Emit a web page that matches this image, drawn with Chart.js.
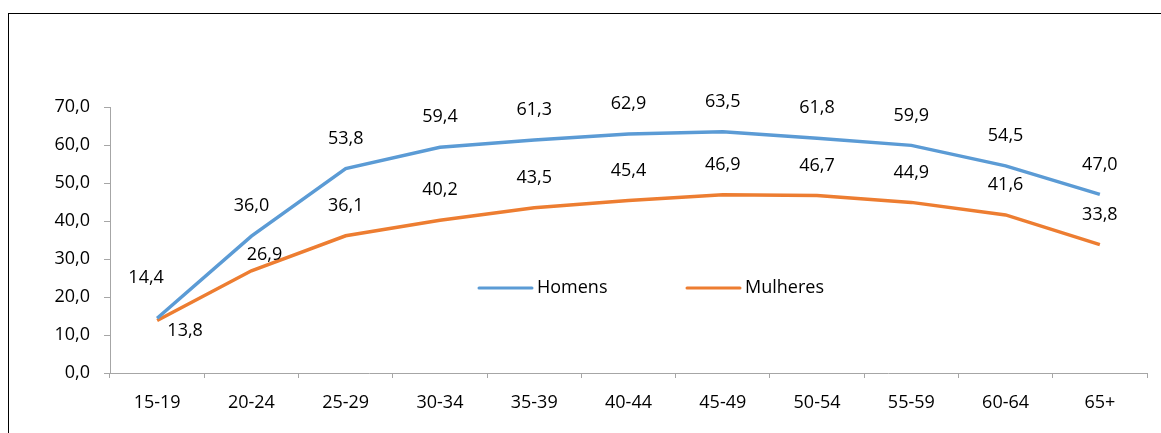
<!DOCTYPE html>
<html>
<head>
<meta charset="utf-8">
<script src="https://cdn.jsdelivr.net/npm/chart.js@4"></script>
<style>
  html, body { margin: 0; padding: 0; background: #fff; overflow: hidden; }
  canvas { display: block; }
</style>
</head>
<body>
<canvas id="chart-line" width="1161" height="433"></canvas>
<script>
// Age groups and rates per sex
const faixas = ["15-19", "20-24", "25-29", "30-34", "35-39", "40-44", "45-49", "50-54", "55-59", "60-64", "65+"];
const homens = [14.4, 36.0, 53.8, 59.4, 61.3, 62.9, 63.5, 61.8, 59.9, 54.5, 47.0];
const mulheres = [13.8, 26.9, 36.1, 40.2, 43.5, 45.4, 46.9, 46.7, 44.9, 41.6, 33.8];

const FONT = { family: "'Open Sans', 'Noto Sans', sans-serif", size: 18 };
const AXIS = "#A6A6A6";
const fmt = v => v.toFixed(1).replace(".", ",");

// label nudges for the crowded points near the start
const labelShift = {
  0: { 0: [-11, -40], 1: [0, -30] },
  1: { 0: [28, 10], 1: [13, -16] }
};

const valueLabels = {
  id: "valueLabels",
  afterDatasetsDraw(chart) {
    const ctx = chart.ctx;
    ctx.save();
    ctx.font = FONT.size + "px " + FONT.family;
    ctx.fillStyle = "#000";
    ctx.textAlign = "center";
    ctx.textBaseline = "middle";
    chart.data.datasets.forEach((ds, di) => {
      chart.getDatasetMeta(di).data.forEach((pt, i) => {
        const s = (labelShift[di] && labelShift[di][i]) || [0, -30];
        ctx.fillText(fmt(ds.data[i]), pt.x + s[0], pt.y + s[1]);
      });
    });
    ctx.restore();
  }
};

// legend drawn inside the plot, plus the outer frame
const innerLegend = {
  id: "innerLegend",
  beforeDraw(chart) {
    const ctx = chart.ctx;
    ctx.save();
    ctx.strokeStyle = "#000";
    ctx.lineWidth = 1;
    ctx.strokeRect(8.5, 13.5, 1300, 600);
    ctx.restore();
  },
  afterDraw(chart) {
    const ctx = chart.ctx;
    const items = [{ x: 479 }, { x: 687 }];
    const y = 288;
    ctx.save();
    ctx.font = FONT.size + "px " + FONT.family;
    ctx.textBaseline = "middle";
    chart.data.datasets.forEach((ds, i) => {
      const x = items[i].x;
      ctx.strokeStyle = ds.borderColor;
      ctx.lineWidth = 3;
      ctx.lineCap = "round";
      ctx.beginPath();
      ctx.moveTo(x, y);
      ctx.lineTo(x + 53, y);
      ctx.stroke();
      ctx.fillStyle = "#000";
      ctx.fillText(ds.label, x + 58, y);
    });
    ctx.restore();
  }
};

new Chart(document.getElementById("chart-line").getContext("2d"), {
  type: "line",
  data: {
    labels: faixas,
    datasets: [
      { label: "Homens", data: homens, borderColor: "#5B9BD5", backgroundColor: "#5B9BD5",
        borderWidth: 3.5, pointRadius: 0, tension: 0 },
      { label: "Mulheres", data: mulheres, borderColor: "#ED7D31", backgroundColor: "#ED7D31",
        borderWidth: 3.5, pointRadius: 0, tension: 0 }
    ]
  },
  options: {
    responsive: false,
    animation: false,
    layout: { padding: { top: 107, right: 14, left: 0, bottom: 0 } },
    plugins: {
      legend: { display: false },
      title: { display: false },
      tooltip: { enabled: false }
    },
    scales: {
      x: {
        offset: true,
        grid: { offset: true, drawOnChartArea: false, color: AXIS, tickLength: 5 },
        border: { color: AXIS },
        ticks: { color: "#000", font: FONT, padding: 14, maxRotation: 0 },
        afterFit(scale) { scale.height = 60; }
      },
      y: {
        min: 0,
        max: 70,
        grid: { drawOnChartArea: false, color: AXIS, tickLength: 6 },
        border: { color: AXIS },
        ticks: { stepSize: 10, color: "#000", font: FONT, padding: 14, callback: v => fmt(v) },
        afterFit(scale) { scale.width = 110; }
      }
    }
  },
  plugins: [valueLabels, innerLegend]
});
</script>
</body>
</html>
